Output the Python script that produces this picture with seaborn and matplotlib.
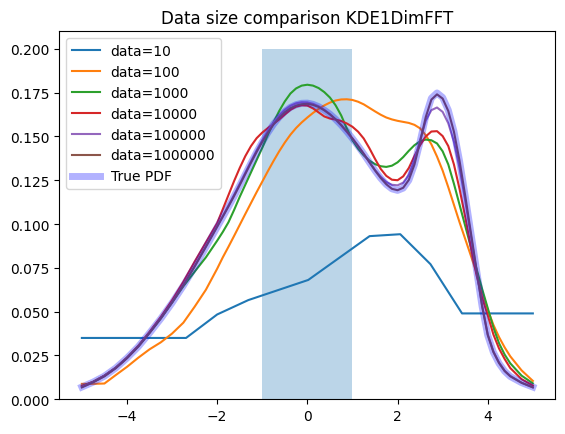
import matplotlib
matplotlib.use('Agg')
import matplotlib.pyplot as plt
import seaborn as sns

# grid the KDE curves were read on (finer where the curves bend)
xs = [-5, -4.75, -4.5, -4.25, -4, -3.75, -3.5, -3.25, -3, -2.75, -2.5, -2.25, -2,
      -1.875, -1.75, -1.625, -1.5, -1.375, -1.25, -1.125, -1, -0.875, -0.75, -0.625,
      -0.5, -0.375, -0.25, -0.125, 0, 0.125, 0.25, 0.375, 0.5, 0.625, 0.75, 0.875,
      1, 1.125, 1.25, 1.375, 1.5,
      1.625, 1.75, 1.875, 2, 2.125, 2.25, 2.375, 2.5, 2.625, 2.75, 2.875, 3, 3.125,
      3.25, 3.375, 3.5, 3.625, 3.75, 3.875, 4,
      4.125, 4.25, 4.375, 4.5, 4.75, 5]

# data=10 is a coarse estimate, it has its own points
xs_10 = [-5, -2.69, -2.0, -1.31, 0.02, 1.38, 2.06, 2.73, 3.43, 5.0]
kde_10 = [0.0350, 0.0350, 0.0484, 0.0566, 0.0681, 0.0931, 0.0942, 0.0771, 0.0490, 0.0490]

kde_100 = [0.0088, 0.0088, 0.0090, 0.0138, 0.0185, 0.0237, 0.0285, 0.0325, 0.0375, 0.0437,
           0.0528, 0.0625, 0.0745,
           0.0810, 0.0870, 0.0932, 0.0995, 0.1058, 0.1120, 0.1182, 0.1242, 0.1302, 0.1360,
           0.1415, 0.1465, 0.1510, 0.1548, 0.1580, 0.1608, 0.1634, 0.1657, 0.1677, 0.1693,
           0.1705, 0.1711, 0.1712, 0.1708, 0.1698, 0.1683, 0.1663, 0.1643,
           0.1624, 0.1608, 0.1597, 0.1589, 0.1583, 0.1577, 0.1566, 0.1546, 0.1507, 0.1455,
           0.1385, 0.1305, 0.1210, 0.1110, 0.1010, 0.0915, 0.0820, 0.0725, 0.0615, 0.0510,
           0.0425, 0.0355, 0.0296, 0.0245, 0.0165, 0.0105]

kde_1000 = [0.0075, 0.0100, 0.0135, 0.0180, 0.0237, 0.0303, 0.0380, 0.0462, 0.0552, 0.0645,
            0.0728, 0.0810, 0.0905,
            0.0955, 0.1010, 0.1080, 0.1155, 0.1225, 0.1295, 0.1365, 0.1435, 0.1510, 0.1580,
            0.1645, 0.1700, 0.1745, 0.1774, 0.1790, 0.1795, 0.1790, 0.1776, 0.1753, 0.1722,
            0.1678, 0.1620, 0.1545, 0.1478, 0.1430, 0.1392, 0.1362, 0.1342,
            0.1330, 0.1326, 0.1333, 0.1352, 0.1382, 0.1418, 0.1450, 0.1472, 0.1482, 0.1478,
            0.1460, 0.1415, 0.1340, 0.1230, 0.1110, 0.0990, 0.0870, 0.0745, 0.0630, 0.0520,
            0.0410, 0.0320, 0.0255, 0.0205, 0.0135, 0.0091]

kde_10000 = [0.0075, 0.0100, 0.0135, 0.0180, 0.0238, 0.0305, 0.0385, 0.0470, 0.0565, 0.0670,
             0.0785, 0.0895, 0.1005,
             0.1085, 0.1165, 0.1245, 0.1320, 0.1388, 0.1445, 0.1490, 0.1522, 0.1548, 0.1572,
             0.1597, 0.1625, 0.1652, 0.1670, 0.1678, 0.1676, 0.1660, 0.1637, 0.1614, 0.1602,
             0.1596, 0.1588, 0.1574, 0.1555, 0.1527, 0.1488, 0.1433, 0.1372,
             0.1315, 0.1275, 0.1253, 0.1250, 0.1272, 0.1320, 0.1388, 0.1450, 0.1500, 0.1528,
             0.1530, 0.1502, 0.1445, 0.1340, 0.1200, 0.1040, 0.0870, 0.0710, 0.0580, 0.0480,
             0.0370, 0.0290, 0.0230, 0.0178, 0.0115, 0.0078]

kde_100000 = [0.0070, 0.0098, 0.0133, 0.0179, 0.0236, 0.0302, 0.0380, 0.0463, 0.0553, 0.0652,
              0.0760, 0.0873, 0.0988,
              0.1046, 0.1105, 0.1166, 0.1229, 0.1293, 0.1357, 0.1420, 0.1478, 0.1532, 0.1580,
              0.1620, 0.1652, 0.1675, 0.1689, 0.1695, 0.1694, 0.1686, 0.1672, 0.1652, 0.1627,
              0.1597, 0.1563, 0.1526, 0.1486, 0.1444, 0.1400, 0.1354, 0.1308,
              0.1270, 0.1240, 0.1224, 0.1221, 0.1236, 0.1280, 0.1365, 0.1480, 0.1590, 0.1650,
              0.1665, 0.1640, 0.1575, 0.1470, 0.1320, 0.1135, 0.0935, 0.0735, 0.0535, 0.0370,
              0.0273, 0.0210, 0.0163, 0.0133, 0.0095, 0.0068]

kde_1000000 = [0.0068, 0.0097, 0.0131, 0.0177, 0.0234, 0.0300, 0.0378, 0.0461, 0.0552, 0.0650,
               0.0757, 0.0870, 0.0984,
               0.1042, 0.1100, 0.1160, 0.1222, 0.1286, 0.1350, 0.1411, 0.1468, 0.1521, 0.1568,
               0.1607, 0.1638, 0.1661, 0.1676, 0.1684, 0.1686, 0.1680, 0.1668, 0.1649, 0.1626,
               0.1598, 0.1565, 0.1528, 0.1489, 0.1446, 0.1401, 0.1353, 0.1306,
               0.1263, 0.1227, 0.1201, 0.1193, 0.1207, 0.1252, 0.1340, 0.1468, 0.1610, 0.1710,
               0.1740, 0.1716, 0.1645, 0.1527, 0.1360, 0.1162, 0.0952, 0.0742, 0.0532, 0.0367,
               0.0270, 0.0207, 0.0161, 0.0131, 0.0094, 0.0068]

true_pdf = [0.0070, 0.0098, 0.0132, 0.0178, 0.0235, 0.0300, 0.0378, 0.0460, 0.0550, 0.0648,
            0.0755, 0.0868, 0.0982,
            0.1040, 0.1098, 0.1158, 0.1220, 0.1284, 0.1348, 0.1410, 0.1468, 0.1522, 0.1570,
            0.1610, 0.1642, 0.1666, 0.1681, 0.1689, 0.1690, 0.1683, 0.1670, 0.1650, 0.1627,
            0.1598, 0.1565, 0.1528, 0.1488, 0.1445, 0.1400, 0.1352, 0.1305,
            0.1262, 0.1226, 0.1201, 0.1192, 0.1205, 0.1250, 0.1340, 0.1470, 0.1615, 0.1718,
            0.1748, 0.1722, 0.1650, 0.1530, 0.1360, 0.1160, 0.0950, 0.0740, 0.0530, 0.0365,
            0.0268, 0.0205, 0.0160, 0.0130, 0.0095, 0.0070]

# uniform block shown behind the curves
box_center = 0
box_width = 2
box_height = 0.2

fig = plt.figure(figsize=(5.65, 4.35), dpi=100)
ax = fig.add_axes([0.105, 0.0798, 0.878, 0.846])

ax.bar(box_center, box_height, width=box_width, color='C0', alpha=0.3)

sns.lineplot(x=xs_10, y=kde_10, ax=ax, color='C0', label='data=10', sort=False)
sns.lineplot(x=xs, y=kde_100, ax=ax, color='C1', label='data=100', sort=False)
sns.lineplot(x=xs, y=kde_1000, ax=ax, color='C2', label='data=1000', sort=False)
sns.lineplot(x=xs, y=kde_10000, ax=ax, color='C3', label='data=10000', sort=False)
sns.lineplot(x=xs, y=kde_100000, ax=ax, color='C4', label='data=100000', sort=False)
sns.lineplot(x=xs, y=kde_1000000, ax=ax, color='C5', label='data=1000000', sort=False)
sns.lineplot(x=xs, y=true_pdf, ax=ax, color='blue', alpha=0.3, linewidth=5,
             label='True PDF', sort=False)

ax.set_xlabel('')
ax.set_ylabel('')
ax.set_title('Data size comparison KDE1DimFFT')
ax.legend(loc='upper left')

fig.savefig('out.png', dpi=100)
